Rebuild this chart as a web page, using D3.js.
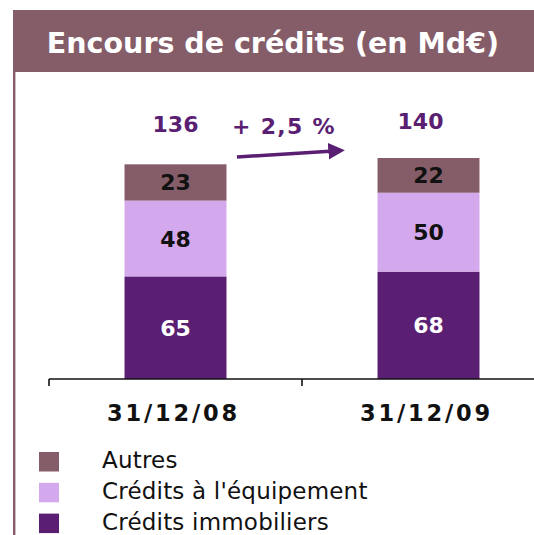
<!DOCTYPE html>
<html><head><meta charset="utf-8">
<script src="https://cdn.jsdelivr.net/npm/d3@7"></script>
<style>html,body{margin:0;padding:0;background:#fff;overflow:hidden}</style>
</head><body>
<script>
const title = "Encours de crédits (en Md€)";
const categories = ["31/12/08", "31/12/09"];
const seriesNames = ["Crédits immobiliers", "Crédits à l'équipement", "Autres"];
const immobiliers = [65, 68];
const equipement = [48, 50];
const autres = [23, 22];
const totals = [136, 140];
const growthLabel = "+ 2,5 %";
const legendOrder = ["Autres", "Crédits à l'équipement", "Crédits immobiliers"];

const colors = {"Autres":"#845d69","Crédits à l'équipement":"#d4a8ec","Crédits immobiliers":"#5a1e73"};
const labelColors = {"Autres":"#111","Crédits à l'équipement":"#111","Crédits immobiliers":"#fff"};
const W = 534, H = 535;
const FONT = "'DejaVu Sans', Verdana, sans-serif";

const svg = d3.select("body").append("svg").attr("width", W).attr("height", H);

// frame
svg.append("rect").attr("x", 13).attr("y", 10).attr("width", W - 13).attr("height", 62).attr("fill", "#845d69");
svg.append("rect").attr("x", 13).attr("y", 70).attr("width", 2.4).attr("height", H - 70).attr("fill", "#845d69");
svg.append("text").attr("x", 273).attr("y", 53).attr("text-anchor", "middle")
  .attr("fill", "#fff").attr("font-family", FONT).attr("font-weight", "bold")
  .attr("font-size", 28.5).text(title);

// data table
const table = categories.map((c, i) => ({
  cat: c,
  "Crédits immobiliers": immobiliers[i],
  "Crédits à l'équipement": equipement[i],
  "Autres": autres[i],
  total: totals[i]
}));
const stacked = d3.stack().keys(seriesNames)(table);

const x = d3.scaleBand().domain(categories).range([49, 555]).padding(0);
const barW = x.bandwidth() * 0.403;
const y = d3.scaleLinear().domain([0, 140]).range([379, 158]);

const g = svg.append("g");
stacked.forEach(layer => {
  const key = layer.key;
  g.selectAll(null).data(layer).enter().append("rect")
    .attr("x", d => x(d.data.cat) + (x.bandwidth() - barW) / 2)
    .attr("width", barW)
    .attr("y", d => y(d[1]))
    .attr("height", d => y(d[0]) - y(d[1]))
    .attr("fill", colors[key]);
  g.selectAll(null).data(layer).enter().append("text")
    .attr("x", d => x(d.data.cat) + x.bandwidth() / 2)
    .attr("y", d => (y(d[0]) + y(d[1])) / 2 + 8)
    .attr("text-anchor", "middle")
    .attr("font-family", FONT).attr("font-weight", "bold").attr("font-size", 22)
    .attr("fill", labelColors[key])
    .text(d => d.data[key]);
});

// totals
g.selectAll(null).data(table).enter().append("text")
  .attr("x", (d, i) => x(d.cat) + x.bandwidth() / 2 - i * 8)
  .attr("y", (d, i) => y(d.total) - 32.4 + i * 3.4)
  .attr("text-anchor", "middle")
  .attr("font-family", FONT).attr("font-weight", "bold").attr("font-size", 22)
  .attr("fill", "#5a1e73")
  .text(d => d.total);

// growth annotation
const cx0 = x(categories[0]) + x.bandwidth() / 2, cx1 = x(categories[1]) + x.bandwidth() / 2;
const mid = (cx0 + cx1) / 2;
svg.append("text").attr("x", mid - 18).attr("y", 134).attr("text-anchor", "middle")
  .attr("font-family", FONT).attr("font-weight", "bold").attr("font-size", 22)
  .attr("letter-spacing", 1.3)
  .attr("fill", "#5a1e73").text(growthLabel);
const defs = svg.append("defs");
defs.append("marker").attr("id", "ah").attr("viewBox", "0 0 10 10").attr("refX", 1).attr("refY", 5)
  .attr("markerWidth", 4.6).attr("markerHeight", 4.8).attr("markerUnits", "strokeWidth").attr("orient", "auto")
  .append("path").attr("d", "M0,0 L10,5 L0,10 Z").attr("fill", "#5a1e73");
svg.append("line").attr("x1", 237).attr("y1", 157).attr("x2", 330).attr("y2", 151.2)
  .attr("stroke", "#5a1e73").attr("stroke-width", 3.6).attr("marker-end", "url(#ah)");

// axis
const axis = svg.append("g").attr("transform", "translate(0,379)");
axis.append("line").attr("x1", 49).attr("x2", W).attr("stroke", "#111").attr("stroke-width", 1.6);
axis.selectAll(null).data(categories).enter().append("line")
  .attr("x1", d => x(d)).attr("x2", d => x(d)).attr("y1", 0).attr("y2", 7)
  .attr("stroke", "#111").attr("stroke-width", 1.6);
axis.selectAll(null).data(categories).enter().append("text")
  .attr("x", d => x(d) + x.bandwidth() / 2 - 2)
  .attr("y", 41.7).attr("text-anchor", "middle")
  .attr("font-family", FONT).attr("font-weight", "bold").attr("font-size", 22.5)
  .attr("letter-spacing", 2.8)
  .attr("fill", "#111").text(d => d);

// legend
const leg = svg.append("g");
legendOrder.forEach((k, i) => {
  leg.append("rect").attr("x", 39).attr("y", 452 + i * 30.8).attr("width", 20).attr("height", 19.5).attr("fill", colors[k]);
  leg.append("text").attr("x", 102).attr("y", 468.3 + i * 30.8)
    .attr("font-family", FONT).attr("font-size", 23).attr("letter-spacing", 0.2)
    .attr("fill", "#111").text(k);
});
</script>
</body></html>
